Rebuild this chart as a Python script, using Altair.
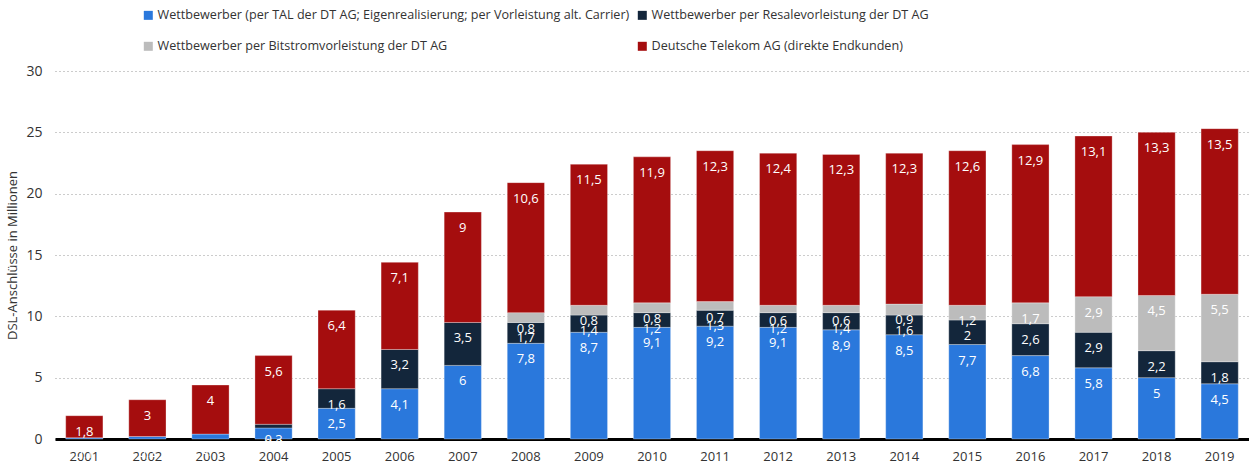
import altair as alt
import pandas as pd

years = [str(y) for y in range(2001, 2020)]
tal = [0.1, 0.2, 0.4, 0.9, 2.5, 4.1, 6, 7.8, 8.7, 9.1, 9.2, 9.1, 8.9, 8.5, 7.7, 6.8, 5.8, 5, 4.5]
resale = [0, 0, 0, 0.3, 1.6, 3.2, 3.5, 1.7, 1.4, 1.2, 1.3, 1.2, 1.4, 1.6, 2, 2.6, 2.9, 2.2, 1.8]
bitstrom = [0, 0, 0, 0, 0, 0, 0, 0.8, 0.8, 0.8, 0.7, 0.6, 0.6, 0.9, 1.2, 1.7, 2.9, 4.5, 5.5]
telekom = [1.8, 3, 4, 5.6, 6.4, 7.1, 9, 10.6, 11.5, 11.9, 12.3, 12.4, 12.3, 12.3, 12.6, 12.9, 13.1, 13.3, 13.5]

series_names = [
    "Wettbewerber (per TAL der DT AG; Eigenrealisierung; per Vorleistung alt. Carrier)",
    "Wettbewerber per Resalevorleistung der DT AG",
    "Wettbewerber per Bitstromvorleistung der DT AG",
    "Deutsche Telekom AG (direkte Endkunden)",
]
colors = ["#2a78dc", "#13263b", "#bcbcbc", "#a50d0e"]
# legend fills column by column: column 1 = TAL, Bitstrom; column 2 = Resale, Telekom
legend_order = [0, 2, 1, 3]
legend_domain = [series_names[i] for i in legend_order]
legend_range = [colors[i] for i in legend_order]

rows = []
for i, yr in enumerate(years):
    base = 0.0
    for k, vals in enumerate([tal, resale, bitstrom, telekom]):
        v = vals[i]
        rows.append({
            "Jahr": yr, "Serie": series_names[k], "order": k, "value": v,
            "y0": base, "y1": base + v,
            "label": f"{v:g}".replace(".", ","),
        })
        base += v
df = pd.DataFrame(rows)
df = df[df["value"] > 0]

FONT = "Open Sans"

x_enc = alt.X("Jahr:N", sort=years, title=None,
              scale=alt.Scale(paddingInner=0.41, paddingOuter=0.17),
              axis=alt.Axis(labelAngle=0, labelFontSize=13, labelColor="#333333",
                            labelPadding=11, ticks=False, domainColor="#000000",
                            domainWidth=3, labelFont=FONT))

bars = alt.Chart(df).mark_bar(stroke="white", strokeWidth=0.6, strokeOpacity=0.5).encode(
    x=x_enc,
    y=alt.Y("y0:Q", title="DSL-Anschlüsse in Millionen",
            scale=alt.Scale(domain=[0, 30], nice=False),
            axis=alt.Axis(values=[0, 5, 10, 15, 20, 25, 30], ticks=False, domain=False,
                          labelFontSize=14, labelColor="#333333", labelPadding=13,
                          titleFontSize=13, titleFontWeight="normal", titleColor="#333333",
                          titlePadding=6, gridDash=[1, 3], gridColor="#999999",
                          gridWidth=1, labelFont=FONT, titleFont=FONT)),
    y2="y1:Q",
    color=alt.Color("Serie:N", scale=alt.Scale(domain=legend_domain, range=legend_range),
                    legend=alt.Legend(title=None, orient="none", legendX=87, legendY=-62,
                                      columns=2, symbolType="square", symbolSize=81,
                                      symbolStrokeWidth=0, labelFontSize=12.6,
                                      labelColor="#333333", labelFont=FONT,
                                      rowPadding=18, columnPadding=6, labelLimit=600,
                                      symbolOffset=0, labelOffset=3)),
)

texts = alt.Chart(df).mark_text(color="white", fontSize=13, font=FONT, baseline="middle",
                                dy=16).encode(
    x=alt.X("Jahr:N", sort=years),
    y=alt.Y("y1:Q"),
    text="label:N",
)

chart = alt.layer(bars, texts).properties(
    width=1194, height=368,
    padding={"left": 55, "top": 71, "right": 0, "bottom": 25},
    autosize="none",
).configure_view(stroke=None).configure_axis(grid=True).configure_axisX(grid=False)

chart.save("out.html", embed_options={"renderer": "svg", "actions": False})
